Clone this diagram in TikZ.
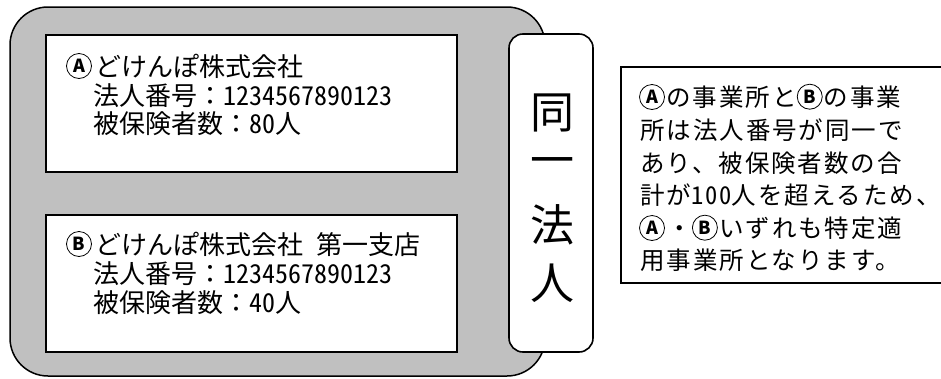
\documentclass[tikz,border=0pt]{standalone}
\usepackage{fontspec}
\setmainfont{Noto Sans CJK JP}
\definecolor{silvergray}{HTML}{C0C0C0}
\newcommand\halfw[1]{{\addfontfeature{CharacterWidth=Half}#1}}
\begin{document}
\begin{tikzpicture}[x=1pt,y=-1pt,
  outer/.style={draw=black, line width=1.5pt, fill=silvergray, rounded corners=38pt,
    minimum width=535pt, minimum height=369pt, inner sep=0pt},
  office/.style={draw=black, line width=1.6pt, fill=white,
    minimum width=411pt, minimum height=137pt, inner sep=0pt},
  samebox/.style={draw=black, line width=1.6pt, fill=white, rounded corners=14pt,
    minimum width=84pt, minimum height=318pt, inner sep=0pt},
  notebox/.style={draw=black, line width=1.6pt, fill=white,
    minimum width=330pt, minimum height=216pt, inner sep=0pt},
  encl/.style={circle, draw=black, line width=0.8pt, inner sep=0pt, minimum size=25pt,
    font=\fontsize{18}{18}\selectfont\bfseries},
  ltxt/.style={anchor=base west, inner sep=0pt, font=\fontsize{26}{28}\selectfont},
  rtxt/.style={anchor=base west, inner sep=0pt,
    font=\fontsize{24.5}{28}\selectfont\addfontfeature{LetterSpace=8}},
  vtxt/.style={anchor=center, inner sep=0pt, font=\fontsize{44}{48}\selectfont}]
\clip (0,0) rectangle (941,378);
\useasboundingbox (0,0) rectangle (941,378);

\node[outer] (grp) at (277.5,191.5) {};
\node[office] (offA) at (251.5,103.5) {};
\node[office] (offB) at (251.5,283.5) {};
\node[samebox] (same) at (551,193) {};
\node[notebox] (note) at (786,175) {};

% office A
\node[encl] (ca1) at (79,66) {A};
\node[ltxt] (a1) at (95,76) {どけんぽ株式会社};
\node[ltxt] (a2) at (93,105) {法人番号：\halfw{1234567890123}};
\node[ltxt] (a3) at (93,133) {被保険者数：\halfw{80}人};

% office B
\node[encl] (cb1) at (79,244) {B};
\node[ltxt] (b1) at (95,254) {どけんぽ株式会社\hspace{0.5em}第一支店};
\node[ltxt] (b2) at (93,283) {法人番号：\halfw{1234567890123}};
\node[ltxt] (b3) at (93,312) {被保険者数：\halfw{40}人};

% same corporation
\node[vtxt] (v1) at (552,113) {同};
\node[vtxt] (v2) at (552,167) {一};
\node[vtxt] (v3) at (552,225) {法};
\node[vtxt] (v4) at (552,283) {人};

% note
\node[encl] (cn1) at (652,97) {A};
\node[rtxt] (n1a) at (666,106) {の事業所と};
\node[encl] (cn2) at ([shift={(13,-9.3)}]n1a.base east) {B};
\node[rtxt] (n1b) at ([shift={(14,9.3)}]cn2.center) {の事業};
\node[rtxt] (n2) at (640,139) {所は法人番号が同一で};
\node[rtxt] (n3) at (640,172) {あり、被保険者数の合};
\node[rtxt] (n4) at (640,204) {計が\halfw{100}人を超えるため、};
\node[encl] (cn3) at (652,228) {A};
\node[rtxt] (n5a) at (667,237) {・};
\node[encl] (cn4) at ([shift={(13,-9.3)}]n5a.base east) {B};
\node[rtxt] (n5b) at ([shift={(14,9.3)}]cn4.center) {いずれも特定適};
\node[rtxt] (n6) at (640,269) {用事業所となります。};
\end{tikzpicture}
\end{document}
